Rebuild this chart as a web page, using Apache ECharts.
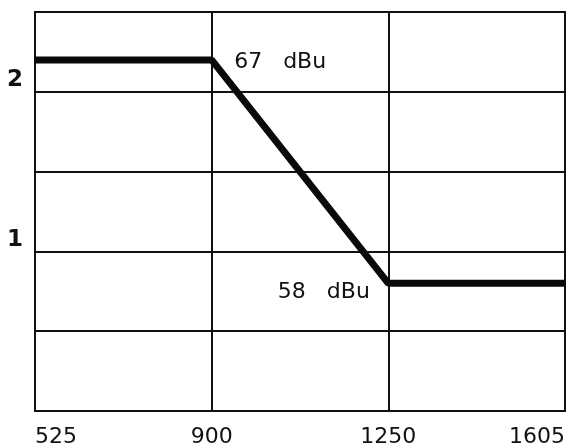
<!DOCTYPE html>
<html>
<head>
<meta charset="utf-8">
<script src="https://cdn.jsdelivr.net/npm/echarts@6/dist/echarts.min.js"></script>
<style>
html,body{margin:0;padding:0;background:#fff;}
#chart{width:568px;height:448px;}
</style>
</head>
<body>
<div id="chart"></div>
<script>
var categories = ['525', '900', '1250', '1605'];
var levels = [2.2, 2.2, 0.8, 0.8];
var yTickLabels = [1, 2];
var annotations = ['', '67   dBu', '58   dBu', ''];

var chart = echarts.init(document.getElementById('chart'), null, {renderer: 'canvas'});
var ink = '#111';
var font = 'DejaVu Sans';

var seriesData = levels.map(function (v, i) {
  var d = {value: v};
  if (i === 1) {
    d.label = {show: true, formatter: annotations[i], position: 'right', distance: 22, offset: [0, 2]};
  } else if (i === 2) {
    d.label = {show: true, formatter: annotations[i], position: 'left', distance: 18, offset: [0, 9]};
  }
  return d;
});

chart.setOption({
  animation: false,
  backgroundColor: '#fff',
  grid: {left: 35, right: 2, top: 12, bottom: 37, show: true, borderColor: ink, borderWidth: 2, backgroundColor: 'transparent'},
  xAxis: {
    type: 'category',
    data: categories,
    boundaryGap: false,
    axisLine: {show: true, lineStyle: {color: ink, width: 2}},
    axisTick: {show: false},
    splitLine: {show: true, lineStyle: {color: ink, width: 2}},
    axisLabel: {
      color: ink, fontFamily: font, fontSize: 22, margin: 15,
      alignMinLabel: 'left', alignMaxLabel: 'right'
    }
  },
  yAxis: {
    type: 'value',
    min: 0, max: 2.5, interval: 0.5,
    axisLine: {show: true, lineStyle: {color: ink, width: 2}},
    axisTick: {show: false},
    splitLine: {show: true, lineStyle: {color: ink, width: 2}},
    axisLabel: {
      color: ink, fontFamily: font, fontSize: 23, fontWeight: 'bold', margin: 12,
      verticalAlign: 'bottom',
      formatter: function (v) { return yTickLabels.indexOf(v) >= 0 ? String(v) : ''; }
    }
  },
  series: [{
    type: 'line',
    data: seriesData,
    symbol: 'circle',
    symbolSize: 1,
    showSymbol: true,
    itemStyle: {color: '#0a0a0a'},
    lineStyle: {color: '#0a0a0a', width: 7},
    label: {color: ink, fontFamily: font, fontSize: 22},
    z: 5
  }]
});
</script>
</body>
</html>
